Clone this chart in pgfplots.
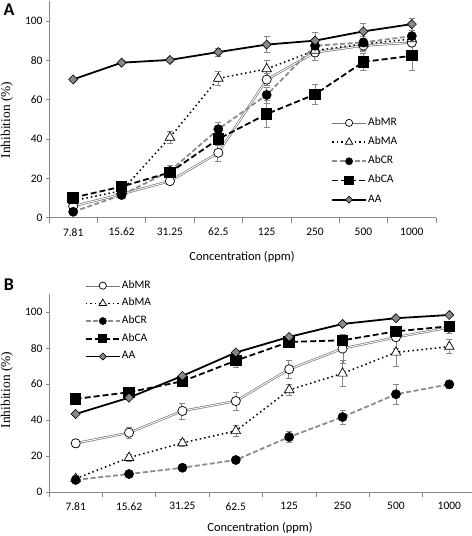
\documentclass[border=0pt]{standalone}
\usepackage{fontspec}
\setmainfont{Liberation Serif}
\setsansfont{Carlito}
\usepackage{pgfplots}
\pgfplotsset{compat=1.18}

\definecolor{axgray}{RGB}{135,135,135}
\definecolor{mrgray}{RGB}{120,120,120}
\definecolor{crgray}{RGB}{140,140,140}
\definecolor{diagray}{RGB}{135,135,135}

\pgfplotsset{
  panel/.style={
    scale only axis,
    xmin=-0.5, xmax=7.5, ymin=0, ymax=110,
    axis x line*=bottom, axis y line*=left,
    axis line style={axgray, line width=0.6bp},
    xtick={0,1,2,3,4,5,6,7},
    xticklabels={7.81,15.62,31.25,62.5,125,250,500,1000},
    major x tick style={draw=none},
    minor xtick={-0.5,0.5,1.5,2.5,3.5,4.5,5.5,6.5,7.5},
    ytick={0,20,40,60,80,100},
    tick align=outside,
    every tick/.style={axgray, line width=0.6bp},
    major tick length=3bp,
    minor tick length=5bp,
    /pgf/number format/assume math mode=true,
    tick label style={font=\sffamily\fontsize{11.5}{13}\selectfont},
    xticklabel style={yshift=-4bp},
    clip=false,
    error bars/error bar style={axgray, line width=0.6bp, solid},
    error bars/error mark options={axgray, line width=0.6bp, mark size=3bp, solid, rotate=90},
    legend cell align=left,
    legend image code/.code={\draw[mark repeat=2,mark phase=2,##1] plot coordinates {(0bp,0bp) (17bp,0bp) (34bp,0bp)};},
    legend image post style={/tikz/every mark/.append style={scale=0.78}},
  },
  smr/.style={mrgray, line width=0.7bp, double=white, double distance=0.9bp, mark=*, mark size=4.6bp, mark options={fill=white, draw=black, line width=0.7bp, solid}},
  sma/.style={black, line width=1.5bp, dash pattern=on 1.5bp off 3bp, mark=triangle*, mark size=5.5bp, mark options={fill=white, draw=black, line width=0.7bp, solid}},
  scr/.style={crgray, line width=1.8bp, dash pattern=on 5bp off 2.5bp, mark=*, mark size=4.6bp, mark options={fill=black, draw=black, line width=0.5bp, solid}},
  sca/.style={black, line width=1.8bp, dash pattern=on 6bp off 3bp, mark=square*, mark size=4.8bp, mark options={fill=black, draw=black, solid}},
  saa/.style={black, line width=1.8bp, mark=square*, mark size=3.2bp, mark options={fill=diagray, draw=black, line width=0.6bp, rotate=45, solid}},
}

\begin{document}
\begin{tikzpicture}
\useasboundingbox (0,0) rectangle (472bp,536bp);

% ---------------- Panel A ----------------
\begin{axis}[panel,
  at={(49bp,318.3bp)}, anchor=south west,
  width=387bp, height=216.4bp,
  legend style={at={(0.728,0.4667)}, anchor=north west, draw=none, fill=none, inner sep=0pt,
    row sep=7.2bp, nodes={inner sep=1bp, text height=7.5bp, text depth=2.5bp},
    font=\sffamily\fontsize{11.5}{13}\selectfont},
]
\addplot[smr, error bars/.cd, y dir=both, y explicit] coordinates {
 (0,5.8) +- (0,1) (1,12) +- (0,1) (2,18.6) +- (0,1.5) (3,33) +- (0,4.5)
 (4,70.2) +- (0,3) (5,84) +- (0,4) (6,87.5) +- (0,3) (7,89) +- (0,2)};
\addlegendentry{AbMR}
\addplot[sma, error bars/.cd, y dir=both, y explicit] coordinates {
 (0,8.6) +- (0,1) (1,13.7) +- (0,1) (2,40.8) +- (0,3) (3,70.8) +- (0,3.5)
 (4,75.6) +- (0,4.5) (5,85) +- (0,3) (6,88.3) +- (0,3) (7,90.8) +- (0,2)};
\addlegendentry{AbMA}
\addplot[scr, error bars/.cd, y dir=both, y explicit] coordinates {
 (0,3) +- (0,1) (1,11.5) +- (0,1) (2,23.7) +- (0,3) (3,45) +- (0,3.5)
 (4,62.4) +- (0,4) (5,87.4) +- (0,3) (6,89.1) +- (0,3) (7,92.3) +- (0,3)};
\addlegendentry{AbCR}
\addplot[sca, error bars/.cd, y dir=both, y explicit] coordinates {
 (0,10.2) +- (0,1) (1,15.8) +- (0,1) (2,23) +- (0,2) (3,40) +- (0,3)
 (4,52.7) +- (0,7) (5,62.7) +- (0,5) (6,79.2) +- (0,4.5) (7,82.3) +- (0,7.5)};
\addlegendentry{AbCA}
\addplot[saa, error bars/.cd, y dir=both, y explicit] coordinates {
 (0,70.3) +- (0,1) (1,78.8) +- (0,1) (2,80.2) +- (0,1) (3,84.2) +- (0,2)
 (4,88) +- (0,4) (5,90) +- (0,4) (6,94.7) +- (0,4) (7,98.4) +- (0,3)};
\addlegendentry{AA}
\end{axis}

% ---------------- Panel B ----------------
\begin{axis}[panel,
  at={(49bp,44bp)}, anchor=south west,
  width=427bp, height=197.7bp,
  legend style={at={(0.0831,1.075)}, anchor=north west, draw=none, fill=none, inner sep=0pt,
    row sep=5.7bp, nodes={inner sep=1bp, text height=7.5bp, text depth=2.5bp},
    font=\sffamily\fontsize{11.5}{13}\selectfont},
]
\addplot[smr, error bars/.cd, y dir=both, y explicit] coordinates {
 (0,27.1) +- (0,2) (1,33) +- (0,3) (2,45.1) +- (0,4.5) (3,50.6) +- (0,5)
 (4,68.3) +- (0,5) (5,79.8) +- (0,8) (6,86.1) +- (0,6) (7,91.5) +- (0,3)};
\addlegendentry{AbMR}
\addplot[sma, error bars/.cd, y dir=both, y explicit] coordinates {
 (0,7.4) +- (0,2) (1,19.1) +- (0,2) (2,27.3) +- (0,2) (3,34) +- (0,3)
 (4,56.8) +- (0,3) (5,66) +- (0,7) (6,77.7) +- (0,7.5) (7,80.9) +- (0,4)};
\addlegendentry{AbMA}
\addplot[scr, error bars/.cd, y dir=both, y explicit] coordinates {
 (0,6.7) +- (0,1) (1,10) +- (0,1) (2,13.5) +- (0,1) (3,17.8) +- (0,1)
 (4,30.6) +- (0,3) (5,41.7) +- (0,4) (6,54.4) +- (0,5.5) (7,59.9) +- (0,2)};
\addlegendentry{AbCR}
\addplot[sca, error bars/.cd, y dir=both, y explicit] coordinates {
 (0,51.8) +- (0,2) (1,55.5) +- (0,2) (2,61.6) +- (0,3) (3,73.1) +- (0,3.5)
 (4,83.5) +- (0,3) (5,84.4) +- (0,3) (6,89.4) +- (0,3) (7,92.2) +- (0,3)};
\addlegendentry{AbCA}
\addplot[saa, error bars/.cd, y dir=both, y explicit] coordinates {
 (0,43.4) +- (0,1) (1,52.5) +- (0,1) (2,64.6) +- (0,1) (3,77.6) +- (0,1)
 (4,86.3) +- (0,1) (5,93.5) +- (0,1) (6,96.7) +- (0,1) (7,98.5) +- (0,1)};
\addlegendentry{AA}
\end{axis}

% labels
\node[rotate=90, font=\fontsize{13.5}{15}\selectfont] at (7bp,416bp) {Inhibition (\%)};
\node[rotate=90, font=\fontsize{13.5}{15}\selectfont] at (7bp,146bp) {Inhibition (\%)};
\node[font=\sffamily\fontsize{12.5}{14}\selectfont] at (242bp,279bp) {Concentration (ppm)};
\node[font=\sffamily\fontsize{12.5}{14}\selectfont] at (260bp,8.5bp) {Concentration (ppm)};
\node[font=\sffamily\bfseries\fontsize{18}{20}\selectfont] at (9bp,526bp) {A};
\node[font=\sffamily\bfseries\fontsize{18}{20}\selectfont] at (9bp,251bp) {B};
\end{tikzpicture}
\end{document}
